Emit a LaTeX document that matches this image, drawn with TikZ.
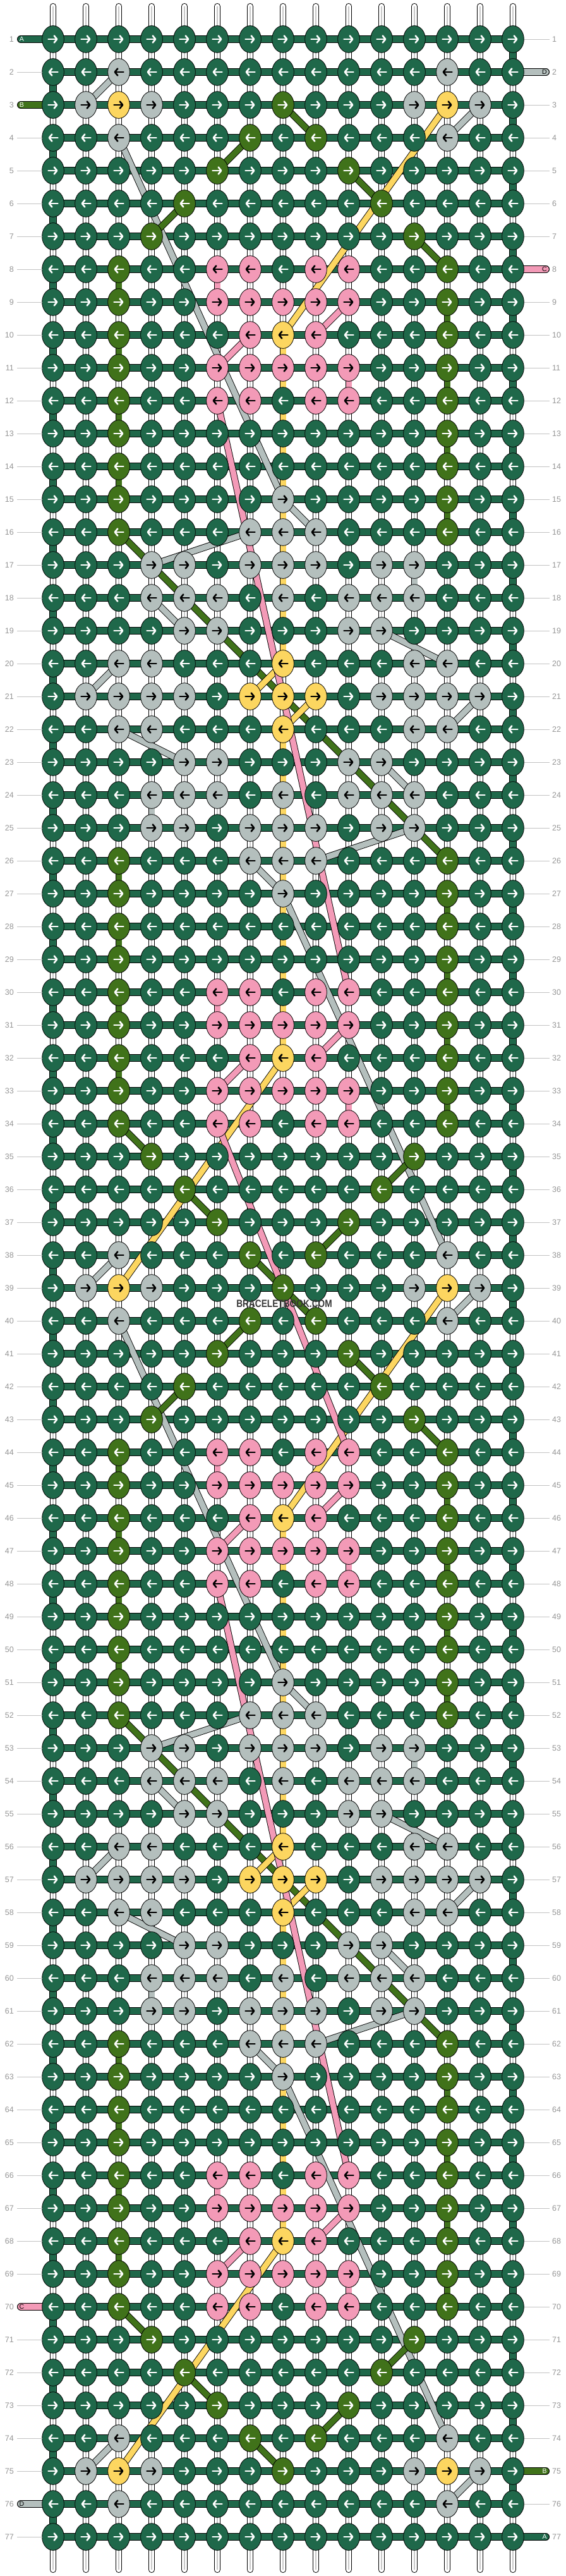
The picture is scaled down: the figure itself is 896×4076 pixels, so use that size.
\documentclass[tikz,border=0pt]{standalone}
\usepackage{fontspec}
\setmainfont{Liberation Sans}
\usepackage{graphicx}
\usetikzlibrary{shapes.geometric,arrows.meta}
\definecolor{cG}{RGB}{31,104,74}
\definecolor{cO}{RGB}{64,114,26}
\definecolor{cL}{RGB}{180,191,189}
\definecolor{cY}{RGB}{252,214,96}
\definecolor{cP}{RGB}{243,154,183}
\colorlet{aG}{white}\colorlet{aO}{white}\colorlet{aL}{black}\colorlet{aY}{black}\colorlet{aP}{black}
\definecolor{numgray}{RGB}{150,150,150}
\definecolor{linegray}{RGB}{195,195,195}
\definecolor{warpmid}{RGB}{200,200,200}
\definecolor{wmgray}{RGB}{55,55,55}
% non-green knots of the base rows (column/colour)
\expandafter\def\csname row0\endcsname{99/G}
\expandafter\def\csname row2\endcsname{2/L,12/L}
\expandafter\def\csname row3\endcsname{1/L,2/Y,3/L,7/O,11/L,12/Y,13/L}
\expandafter\def\csname row4\endcsname{2/L,6/O,8/O,12/L}
\expandafter\def\csname row5\endcsname{5/O,9/O}
\expandafter\def\csname row6\endcsname{4/O,10/O}
\expandafter\def\csname row7\endcsname{3/O,11/O}
\expandafter\def\csname row8\endcsname{2/O,5/P,6/P,8/P,9/P,12/O}
\expandafter\def\csname row9\endcsname{2/O,5/P,6/P,7/P,8/P,9/P,12/O}
\expandafter\def\csname row10\endcsname{2/O,6/P,7/Y,8/P,12/O}
\expandafter\def\csname row11\endcsname{2/O,5/P,6/P,7/P,8/P,9/P,12/O}
\expandafter\def\csname row12\endcsname{2/O,5/P,6/P,8/P,9/P,12/O}
\expandafter\def\csname row13\endcsname{2/O,12/O}
\expandafter\def\csname row14\endcsname{2/O,12/O}
\expandafter\def\csname row15\endcsname{2/O,7/L,12/O}
\expandafter\def\csname row16\endcsname{2/O,6/L,7/L,8/L,12/O}
\expandafter\def\csname row17\endcsname{3/L,4/L,6/L,7/L,8/L,10/L,11/L}
\expandafter\def\csname row18\endcsname{3/L,4/L,5/L,7/L,9/L,10/L,11/L}
\expandafter\def\csname row19\endcsname{4/L,5/L,9/L,10/L}
\expandafter\def\csname row20\endcsname{2/L,3/L,7/Y,11/L,12/L}
\expandafter\def\csname row21\endcsname{1/L,2/L,3/L,4/L,6/Y,7/Y,8/Y,10/L,11/L,12/L,13/L}
\begin{document}
\begin{tikzpicture}[x=1pt,y=-1pt,
  knot/.style={ellipse, draw=black, line width=0.8pt, minimum width=34.7pt, minimum height=42.7pt, inner sep=0pt},
  arr/.style={line width=2.6pt, line cap=round, -{Straight Barb[length=4.5pt,width=11pt,round]}},
  strand/.style={line width=0.9pt, draw=black, double=#1, double distance=9pt},
  weft/.style={line width=1pt, draw=black, double=cG, double distance=10pt},
  warp/.style={line width=1pt, draw=black, double=white, double distance=8pt, line cap=round},
  tagstub/.style={line width=1pt, draw=black, double=#1, double distance=10pt, line cap=round},
  numlab/.style={font=\fontsize{12.5}{12.5}\selectfont, text=numgray, inner sep=0pt},
  taglab/.style={font=\fontsize{10.5}{10.5}\selectfont, inner sep=0pt},
  guide/.style={draw=linegray, line width=0.9pt}]
\fill[white] (0,0) rectangle (896,4076);
\useasboundingbox (0,0) rectangle (896,4076);
% grid positions
\foreach \r in {1,...,77}{\foreach \c in {0,...,14}{\coordinate (p-\r-\c) at ({84+52*\c},{10+52*\r});}}
% white base strings
\foreach \c in {0,...,14}{
  \coordinate (wt-\c) at ({84+52*\c},10);
  \coordinate (wb-\c) at ({84+52*\c},4066);
  \draw[warp] (wt-\c) -- (wb-\c);
  \draw[draw=warpmid, line width=1.2pt] (wt-\c) -- (wb-\c);
}
% working string
\foreach \r in {1,...,77}{\draw[weft] (p-\r-0) -- (p-\r-14);}
\foreach \r in {1,...,76}{
  \pgfmathtruncatemacro\nx{\r+1}
  \pgfmathtruncatemacro\odd{mod(\r,2)}
  \ifnum\odd=1 \draw[weft] (p-\r-14) -- (p-\nx-14); \else \draw[weft] (p-\r-0) -- (p-\nx-0); \fi
}
% carried strands
\foreach \off in {0,36}{
  \foreach \ra/\ca/\rb/\cb in {3/13/4/12,4/2/15/7,15/7/16/8,16/6/17/3,17/11/18/11,18/3/19/4,19/10/20/12,20/2/21/1,21/13/22/12,22/2/23/4,23/10/24/11,24/3/25/3,25/11/26/8,26/6/27/7,27/7/38/12,38/2/39/1}{
    \pgfmathtruncatemacro\rA{\ra+\off}\pgfmathtruncatemacro\rB{\rb+\off}
    \draw[strand=cL] (p-\rA-\ca) -- (p-\rB-\cb);
  }
}
\draw[strand=cL] (p-2-2) -- (p-3-1);
\draw[strand=cL] (p-75-13) -- (p-76-12);
\foreach \off in {0,36}{
  \foreach \ra/\ca/\rb/\cb in {3/7/4/8,4/6/5/5,5/9/6/10,6/4/7/3,7/11/8/12,8/2/9/2,9/12/10/12,10/2/11/2,11/12/12/12,12/2/13/2,13/12/14/12,14/2/15/2,15/12/16/12,16/2/26/12,26/2/27/2,27/12/28/12,28/2/29/2,29/12/30/12,30/2/31/2,31/12/32/12,32/2/33/2,33/12/34/12,34/2/35/3,35/11/36/10,36/4/37/5,37/9/38/8,38/6/39/7}{
    \pgfmathtruncatemacro\rA{\ra+\off}\pgfmathtruncatemacro\rB{\rb+\off}
    \draw[strand=cO] (p-\rA-\ca) -- (p-\rB-\cb);
  }
}
\foreach \off in {0,36}{
  \foreach \ra/\ca/\rb/\cb in {3/12/10/7,10/7/20/7,20/7/21/6,21/8/22/7,22/7/32/7,32/7/39/2}{
    \pgfmathtruncatemacro\rA{\ra+\off}\pgfmathtruncatemacro\rB{\rb+\off}
    \draw[strand=cY] (p-\rA-\ca) -- (p-\rB-\cb);
  }
}
\foreach \off in {0,36}{
  \foreach \ra/\ca/\rb/\cb in {8/5/9/5,9/9/10/8,10/6/11/5,11/9/12/9,12/5/30/9,30/5/31/5,31/9/32/8,32/6/33/5,33/9/34/9}{
    \pgfmathtruncatemacro\rA{\ra+\off}\pgfmathtruncatemacro\rB{\rb+\off}
    \draw[strand=cP] (p-\rA-\ca) -- (p-\rB-\cb);
  }
}
\draw[strand=cP] (p-34-5) -- (p-44-9);
% string ends with letters
\coordinate (tl-1) at (33,62);   \draw[tagstub=cG] (p-1-0) -- (tl-1);
\coordinate (tl-3) at (33,166);  \draw[tagstub=cO] (p-3-0) -- (tl-3);
\coordinate (tl-70) at (33,3650);\draw[tagstub=cP] (p-70-0) -- (tl-70);
\coordinate (tl-76) at (33,3962);\draw[tagstub=cL] (p-76-0) -- (tl-76);
\coordinate (tr-2) at (864,114);  \draw[tagstub=cL] (p-2-14) -- (tr-2);
\coordinate (tr-8) at (864,426);  \draw[tagstub=cP] (p-8-14) -- (tr-8);
\coordinate (tr-75) at (864,3910);\draw[tagstub=cO] (p-75-14) -- (tr-75);
\coordinate (tr-77) at (864,4014);\draw[tagstub=cG] (p-77-14) -- (tr-77);
\node[taglab, text=white] (ta-1) at (34.5,62) {A};
\node[taglab, text=white] (ta-3) at (34.5,166) {B};
\node[taglab, text=black] (ta-70) at (34.5,3650) {C};
\node[taglab, text=black] (ta-76) at (34.5,3962) {D};
\node[taglab, text=black] (ta-2) at (862,114) {D};
\node[taglab, text=black] (ta-8) at (862,426) {C};
\node[taglab, text=white] (ta-75) at (862,3910) {B};
\node[taglab, text=white] (ta-77) at (862,4014) {A};
% knots
\foreach \r in {1,...,77}{
  \pgfmathtruncatemacro\bi{(\r==1||\r==77) ? 0 : ((\r==2||\r==76) ? 2 : mod(\r-3,36)+3)}
  \pgfmathtruncatemacro\bj{\bi>21 ? 42-\bi : \bi}
  \expandafter\let\expandafter\thislist\csname row\bj\endcsname
  \foreach \c in {0,...,14}{\expandafter\gdef\csname kc\c\endcsname{G}}
  \foreach \c/\kk in \thislist{\expandafter\xdef\csname kc\c\endcsname{\kk}}
  \pgfmathtruncatemacro\odd{mod(\r,2)}
  \foreach \c in {0,...,14}{
    \edef\kk{\csname kc\c\endcsname}
    \edef\fc{c\kk}\edef\ac{a\kk}
    \node[knot, fill=\fc] (k-\r-\c) at (p-\r-\c) {};
    \ifnum\odd=1
      \draw[arr, draw=\ac] ([xshift=-7.5pt]p-\r-\c) -- ([xshift=7.5pt]p-\r-\c);
    \else
      \draw[arr, draw=\ac] ([xshift=7.5pt]p-\r-\c) -- ([xshift=-7.5pt]p-\r-\c);
    \fi
  }
}
% row numbers and guide lines
\foreach \r in {1,...,77}{
  \pgfmathtruncatemacro\yy{10+52*\r}
  \node[numlab, anchor=east] (nl-\r) at (22,\yy) {\r};
  \node[numlab, anchor=west] (nr-\r) at (874,\yy) {\r};
  \pgfmathtruncatemacro\hasL{(\r==1)||(\r==3)||(\r==70)||(\r==76)}
  \pgfmathtruncatemacro\hasR{(\r==2)||(\r==8)||(\r==75)||(\r==77)}
  \ifnum\hasL=0 \coordinate (gl-\r) at (67,\yy); \draw[guide] ([xshift=5pt]nl-\r.east) -- (gl-\r); \fi
  \ifnum\hasR=0 \coordinate (gr-\r) at (830,\yy); \draw[guide] (gr-\r) -- ([xshift=-4pt]nr-\r.west); \fi
}
\node[font=\bfseries\fontsize{16.5}{16.5}\selectfont, text=wmgray, inner sep=0pt] (wm) at (450,2063) {\scalebox{0.83}[1]{BRACELETBOOK.COM}};
\end{tikzpicture}
\end{document}
